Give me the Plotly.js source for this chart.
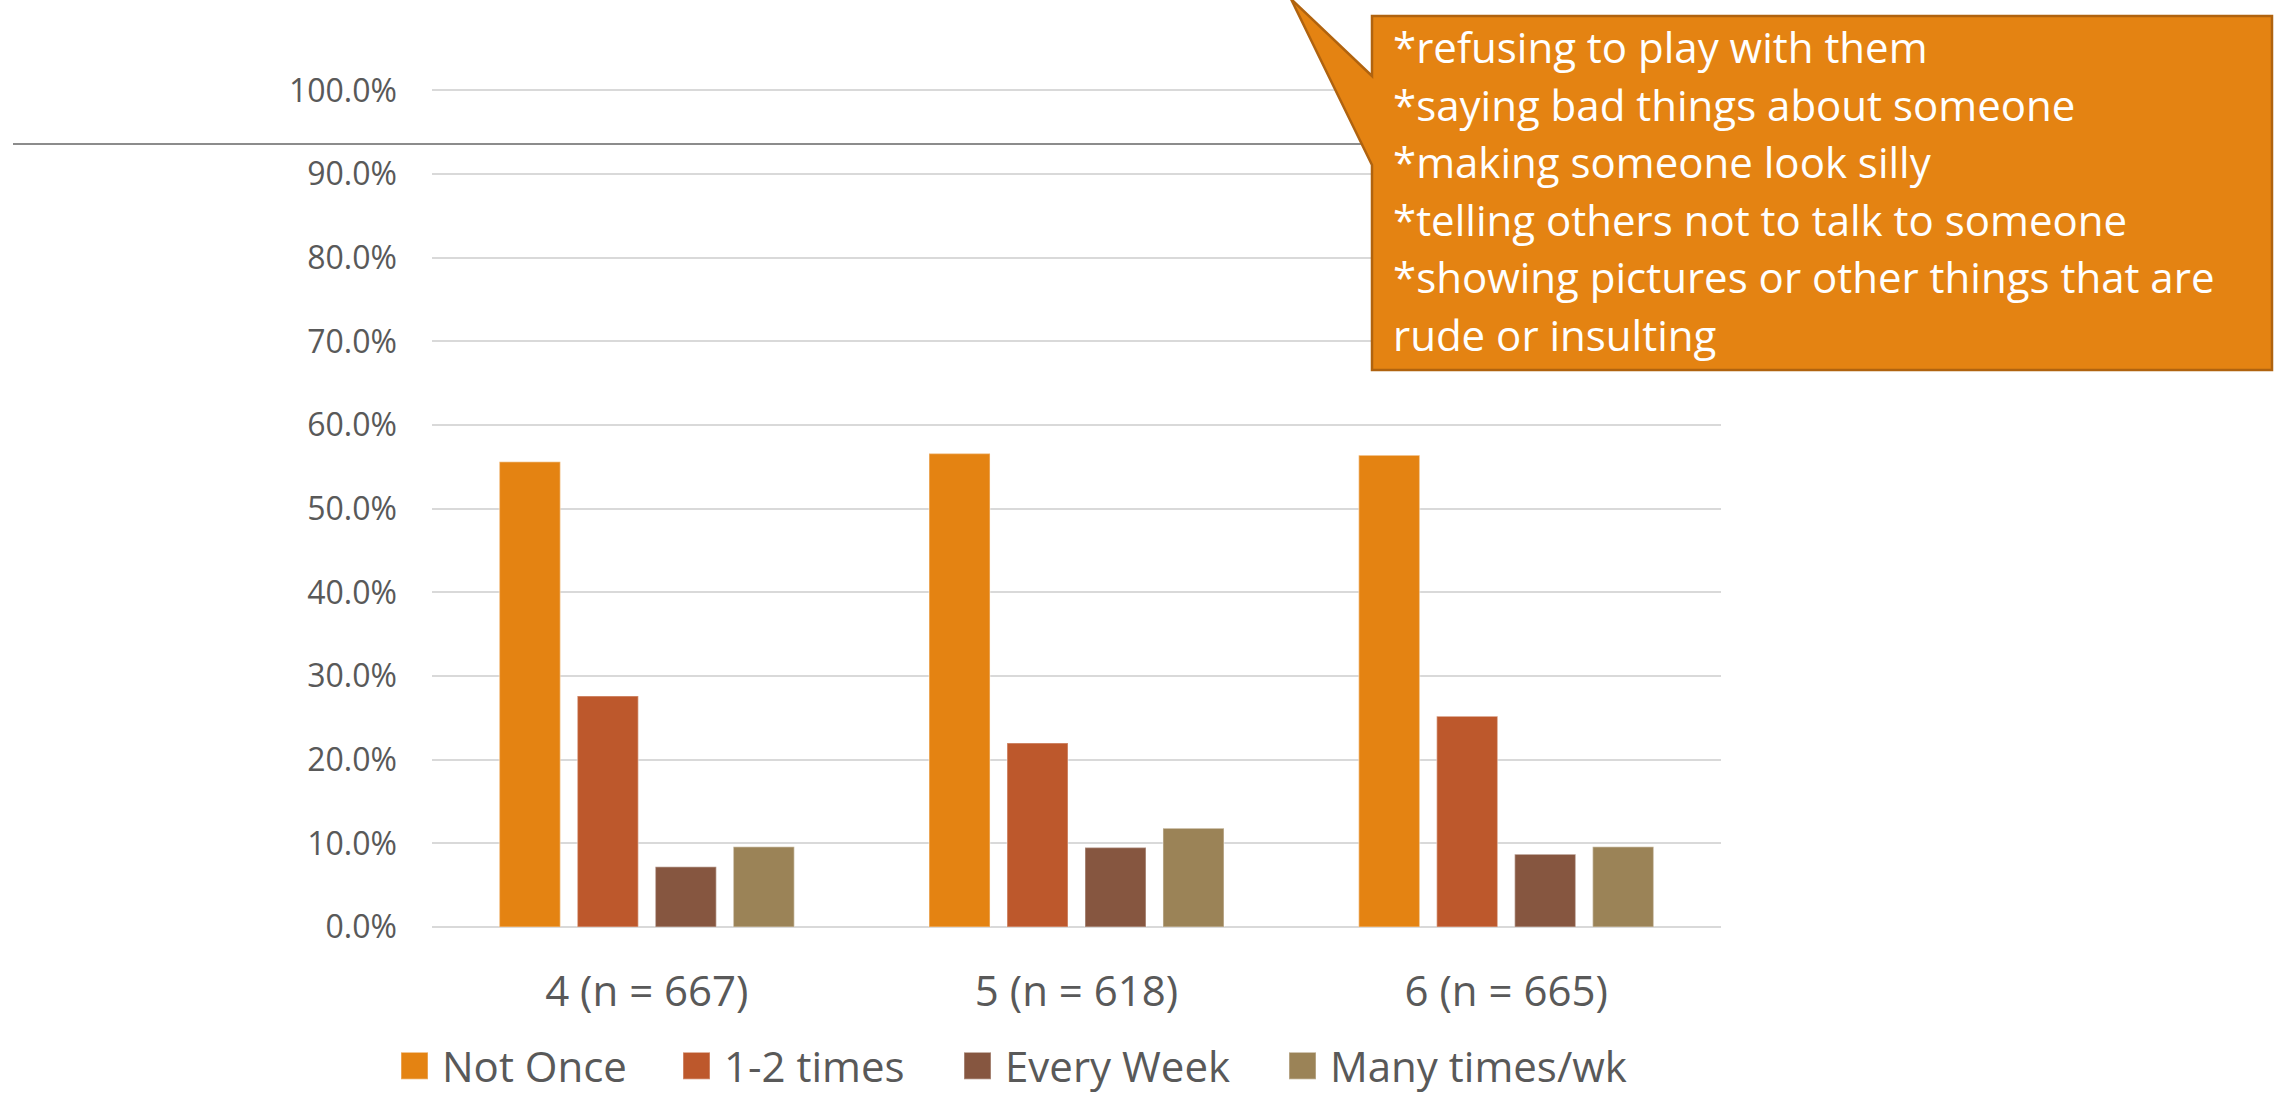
<!DOCTYPE html>
<html>
<head>
<meta charset="utf-8">
<script src="https://cdn.plot.ly/plotly-3.0.1.min.js"></script>
<style>
  html, body { margin: 0; padding: 0; background: #ffffff; }
  #chart { width: 2277px; height: 1093px; }
  /* larger square swatches in the legends */
  .legendpoints path { d: path("M13.5,13.5H-13.5V-13.5H13.5Z"); }
</style>
</head>
<body>
<div id="chart"></div>
<script>
// Grade groups (with sample sizes)
const grades = ['4 (n = 667)', '5 (n = 618)', '6 (n = 665)'];

// Response categories
const seriesNames = ['Not Once', '1-2 times', 'Every Week', 'Many times/wk'];

// Share of students per response, by grade
const notOnce     = [0.556, 0.566, 0.564];
const onceOrTwice = [0.276, 0.220, 0.252];
const everyWeek   = [0.072, 0.095, 0.087];
const manyPerWeek = [0.096, 0.118, 0.096];

const seriesColors = ['#E48312', '#BD582C', '#865640', '#9B8357'];

// Behaviours listed in the callout
const calloutLines = [
  '*refusing to play with them',
  '*saying bad things about someone',
  '*making someone look silly',
  '*telling others not to talk to someone',
  '*showing pictures or other things that are',
  'rude or insulting'
];

// ---- page geometry (pixels) ----
const W = 2277, H = 1093;
const M = { l: 432, r: 556, t: 87, b: 166, autoexpand: false };
const plotW = W - M.l - M.r;
const plotH = H - M.t - M.b;
const fx = px => (px - M.l) / plotW;          // pixel x -> paper x
const fy = py => (H - M.b - py) / plotH;      // pixel y -> paper y

const FONT = '"Open Sans", "DejaVu Sans", sans-serif';
const GREY_TEXT = '#595959';

const seriesValues = [notOnce, onceOrTwice, everyWeek, manyPerWeek];
const legendIds = ['legend', 'legend2', 'legend3', 'legend4'];
const legendLeft = [387, 669, 950, 1275];

const traces = seriesNames.map((name, i) => ({
  type: 'bar',
  name: name,
  x: grades,
  y: seriesValues[i],
  legend: legendIds[i],
  marker: {
    color: seriesColors[i],
    line: { color: 'rgba(255,255,255,0.35)', width: 1.5 }
  },
  hoverinfo: 'skip'
}));

const legendCfg = {
  orientation: 'h',
  yanchor: 'middle',
  xanchor: 'left',
  y: fy(1066),
  bgcolor: 'rgba(0,0,0,0)',
  borderwidth: 0,
  itemwidth: 45,
  font: { family: FONT, size: 42, color: GREY_TEXT }
};

const layout = {
  width: W,
  height: H,
  margin: M,
  paper_bgcolor: '#ffffff',
  plot_bgcolor: '#ffffff',
  font: { family: FONT, color: GREY_TEXT },
  barmode: 'group',
  bargap: 0.274,
  bargroupgap: 0.218,
  showlegend: true,
  xaxis: {
    type: 'category',
    showgrid: false,
    showline: false,
    ticks: '',
    ticklabelstandoff: 36,
    tickfont: { family: FONT, size: 42, color: GREY_TEXT }
  },
  yaxis: {
    // a little headroom so the 100% gridline is kept
    range: [0, 1.004],
    dtick: 0.1,
    tick0: 0,
    tickformat: '.1%',
    showgrid: true,
    gridcolor: '#D9D9D9',
    gridwidth: 2,
    zeroline: true,
    zerolinecolor: '#D9D9D9',
    zerolinewidth: 2,
    showline: false,
    ticks: '',
    ticklabelstandoff: 34,
    tickfont: { family: FONT, size: 32, color: GREY_TEXT }
  },
  shapes: [
    // horizontal rule across the top
    {
      type: 'line', xref: 'paper', yref: 'paper',
      x0: fx(13), x1: fx(1380), y0: fy(144), y1: fy(144),
      line: { color: '#8C8C8C', width: 2 }
    },
    // callout box with pointer
    {
      type: 'path', xref: 'paper', yref: 'paper',
      path: 'M ' + fx(1372) + ',' + fy(16) +
            ' L ' + fx(2272) + ',' + fy(16) +
            ' L ' + fx(2272) + ',' + fy(370) +
            ' L ' + fx(1372) + ',' + fy(370) +
            ' L ' + fx(1372) + ',' + fy(165) +
            ' L ' + fx(1291) + ',' + fy(-1) +
            ' L ' + fx(1372) + ',' + fy(76) + ' Z',
      fillcolor: '#E48312',
      line: { color: '#B0630F', width: 2.5 },
      layer: 'above'
    }
  ],
  annotations: calloutLines.map((t, i) => ({
    text: t,
    xref: 'paper', yref: 'paper',
    x: fx(1391), xanchor: 'left',
    y: fy(46.5 + i * 57.6), yanchor: 'middle',
    showarrow: false,
    font: { family: FONT, size: 42, color: '#ffffff' }
  }))
};

legendIds.forEach((id, i) => {
  layout[id] = Object.assign({}, legendCfg, { x: fx(legendLeft[i]) });
});

Plotly.newPlot('chart', traces, layout, { staticPlot: true, displayModeBar: false });
</script>
</body>
</html>
